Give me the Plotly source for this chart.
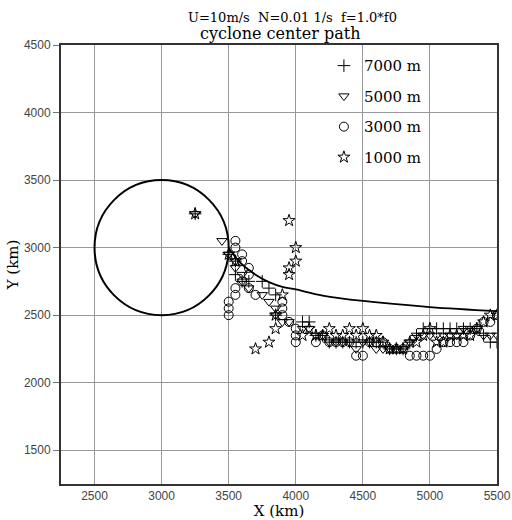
import plotly.graph_objects as go

# ---- data ----
title_lines = ["U=10m/s  N=0.01 1/s  f=1.0*f0", "cyclone center path"]
x_ticks = [2500, 3000, 3500, 4000, 4500, 5000, 5500]
y_ticks = [1500, 2000, 2500, 3000, 3500, 4000, 4500]

circle_center_x = 3000
circle_center_y = 3000
circle_radius = 500

curve_x = [3500, 3550, 3600, 3700, 3800, 3900, 4000, 4200, 4500, 5000, 5500]
curve_y = [2995, 2930, 2875, 2800, 2745, 2710, 2690, 2645, 2605, 2560, 2530]

x_7000 = [3250, 3500, 3550, 3550, 3600, 3650, 3750, 3800, 3850, 3850, 4050, 4100, 4150, 4200,
          4250, 4300, 4350, 4400, 4450, 4500, 4550, 4600, 4650, 4700, 4750, 4800, 4850, 4900,
          4950, 5000, 5050, 5100, 5150, 5200, 5250, 5300, 5350, 5400, 5450, 5500]
y_7000 = [3250, 2950, 2900, 2800, 2750, 2750, 2750, 2700, 2650, 2500, 2450, 2450, 2350, 2350,
          2300, 2300, 2300, 2300, 2300, 2300, 2300, 2300, 2300, 2250, 2250, 2250, 2300, 2350,
          2400, 2400, 2400, 2400, 2400, 2400, 2400, 2400, 2400, 2350, 2300, 2300]

x_5000 = [3250, 3450, 3500, 3550, 3550, 3600, 3600, 3650, 3750, 3800, 3850, 3850, 3900, 3950,
          4050, 4100, 4150, 4200, 4250, 4300, 4350, 4400, 4450, 4500, 4550, 4600, 4650, 4700,
          4750, 4800, 4850, 4900, 4950, 5000, 5050, 5100, 5150, 5200, 5250, 5300, 5350, 5400,
          5450, 5500]
y_5000 = [3250, 3050, 2950, 2900, 2850, 2800, 2750, 2700, 2650, 2600, 2550, 2500, 2450, 2450,
          2400, 2400, 2350, 2350, 2300, 2300, 2300, 2300, 2250, 2300, 2300, 2250, 2250, 2250,
          2250, 2250, 2300, 2350, 2350, 2350, 2350, 2350, 2350, 2350, 2400, 2400, 2400, 2350,
          2350, 2350]

x_3000 = [3550, 3550, 3600, 3600, 3650, 3650, 3600, 3550, 3550, 3500, 3500, 3500, 3650, 3700,
          3900, 3900, 3900, 3950, 4000, 4000, 4000, 4150, 4200, 4250, 4300, 4350, 4400, 4450,
          4500, 4550, 4600, 4650, 4700, 4750, 4800, 4850, 4900, 4950, 5000, 5050, 5100, 5150,
          5200, 5250, 5300, 5350, 5400, 5450, 5500]
y_3000 = [3050, 3000, 2950, 2900, 2850, 2800, 2750, 2700, 2650, 2600, 2550, 2500, 2700, 2650,
          2600, 2550, 2500, 2450, 2400, 2350, 2300, 2300, 2350, 2300, 2300, 2300, 2300, 2200,
          2200, 2300, 2300, 2300, 2250, 2250, 2250, 2200, 2200, 2200, 2200, 2250, 2300, 2300,
          2300, 2300, 2350, 2400, 2450, 2450, 2500]

x_1000 = [3250, 3500, 3550, 3850, 3800, 3700, 3850, 3900, 3950, 3950, 4000, 4000, 3950, 4050,
          4100, 4150, 4200, 4250, 4300, 4350, 4400, 4450, 4500, 4550, 4600, 4650, 4700, 4750,
          4800, 4850, 4900, 4950, 5000, 5050, 5100, 5150, 5200, 5250, 5300, 5350, 5400, 5450, 5500]
y_1000 = [3250, 2950, 2900, 2500, 2300, 2250, 2400, 2650, 2800, 2850, 2900, 3000, 3200, 2350,
          2400, 2350, 2350, 2400, 2350, 2350, 2400, 2350, 2400, 2350, 2350, 2300, 2250, 2250,
          2250, 2300, 2300, 2350, 2400, 2300, 2300, 2350, 2350, 2350, 2350, 2400, 2450, 2500, 2500]

series = [
    ("7000 m", x_7000, y_7000, "cross-thin-open"),
    ("5000 m", x_5000, y_5000, "triangle-down-open"),
    ("3000 m", x_3000, y_3000, "circle-open"),
    ("1000 m", x_1000, y_1000, "star-open"),
]

SERIF = "DejaVu Serif"
SANS = "Liberation Sans"

fig = go.Figure()

fig.add_trace(go.Scatter(x=curve_x, y=curve_y, mode="lines", line=dict(color="black", width=1.8, shape="spline"),
                         showlegend=False, hoverinfo="skip"))

for i, (name, xs, ys, sym) in enumerate(series):
    fig.add_trace(go.Scatter(
        x=xs, y=ys, mode="markers", name=name, legendgroup=name,
        marker=dict(symbol=sym, size=9, color="black", line=dict(color="black", width=1)),
    ))

fig.add_shape(type="circle", xref="x", yref="y",
              x0=circle_center_x - circle_radius, x1=circle_center_x + circle_radius,
              y0=circle_center_y - circle_radius, y1=circle_center_y + circle_radius,
              line=dict(color="black", width=2))

# title as two annotation lines
fig.add_annotation(text=title_lines[0], xref="paper", yref="paper", x=0.53, y=1.0, yshift=28,
                   xanchor="center", yanchor="middle", showarrow=False,
                   font=dict(family=SERIF, size=13, color="black"))
fig.add_annotation(text=title_lines[1], xref="paper", yref="paper", x=0.503, y=1.0, yshift=12,
                   xanchor="center", yanchor="middle", showarrow=False,
                   font=dict(family=SERIF, size=16, color="black"))

fig.update_layout(
    width=512, height=520,
    margin=dict(l=61, r=15, t=45, b=36, autoexpand=False),
    paper_bgcolor="white", plot_bgcolor="white",
    showlegend=True,
    legend=dict(x=0.603, y=0.99, xanchor="left", yanchor="top", bgcolor="rgba(0,0,0,0)",
                font=dict(family=SERIF, size=15, color="black"), tracegroupgap=8,
                traceorder="grouped", itemwidth=30),
)

fig.update_xaxes(range=[2250, 5500], tickvals=x_ticks, showgrid=True, gridcolor="#999999", gridwidth=1,
                 showline=True, linecolor="#333333", linewidth=2, mirror=True, zeroline=False,
                 ticks="", tickfont=dict(family=SANS, size=12, color="#444444"), automargin=False,
                 title=dict(text="X (km)", font=dict(family=SERIF, size=15, color="black"), standoff=4))
fig.update_yaxes(range=[1250, 4500], tickvals=y_ticks, showgrid=True, gridcolor="#999999", gridwidth=1,
                 showline=True, linecolor="#333333", linewidth=2, mirror=True, zeroline=False,
                 ticks="outside", ticklen=6, tickcolor="#777777", automargin=False,
                 tickfont=dict(family=SANS, size=12, color="#444444"),
                 title=dict(text="Y (km)", font=dict(family=SERIF, size=15, color="black"), standoff=2))

fig.write_html("out.html")
